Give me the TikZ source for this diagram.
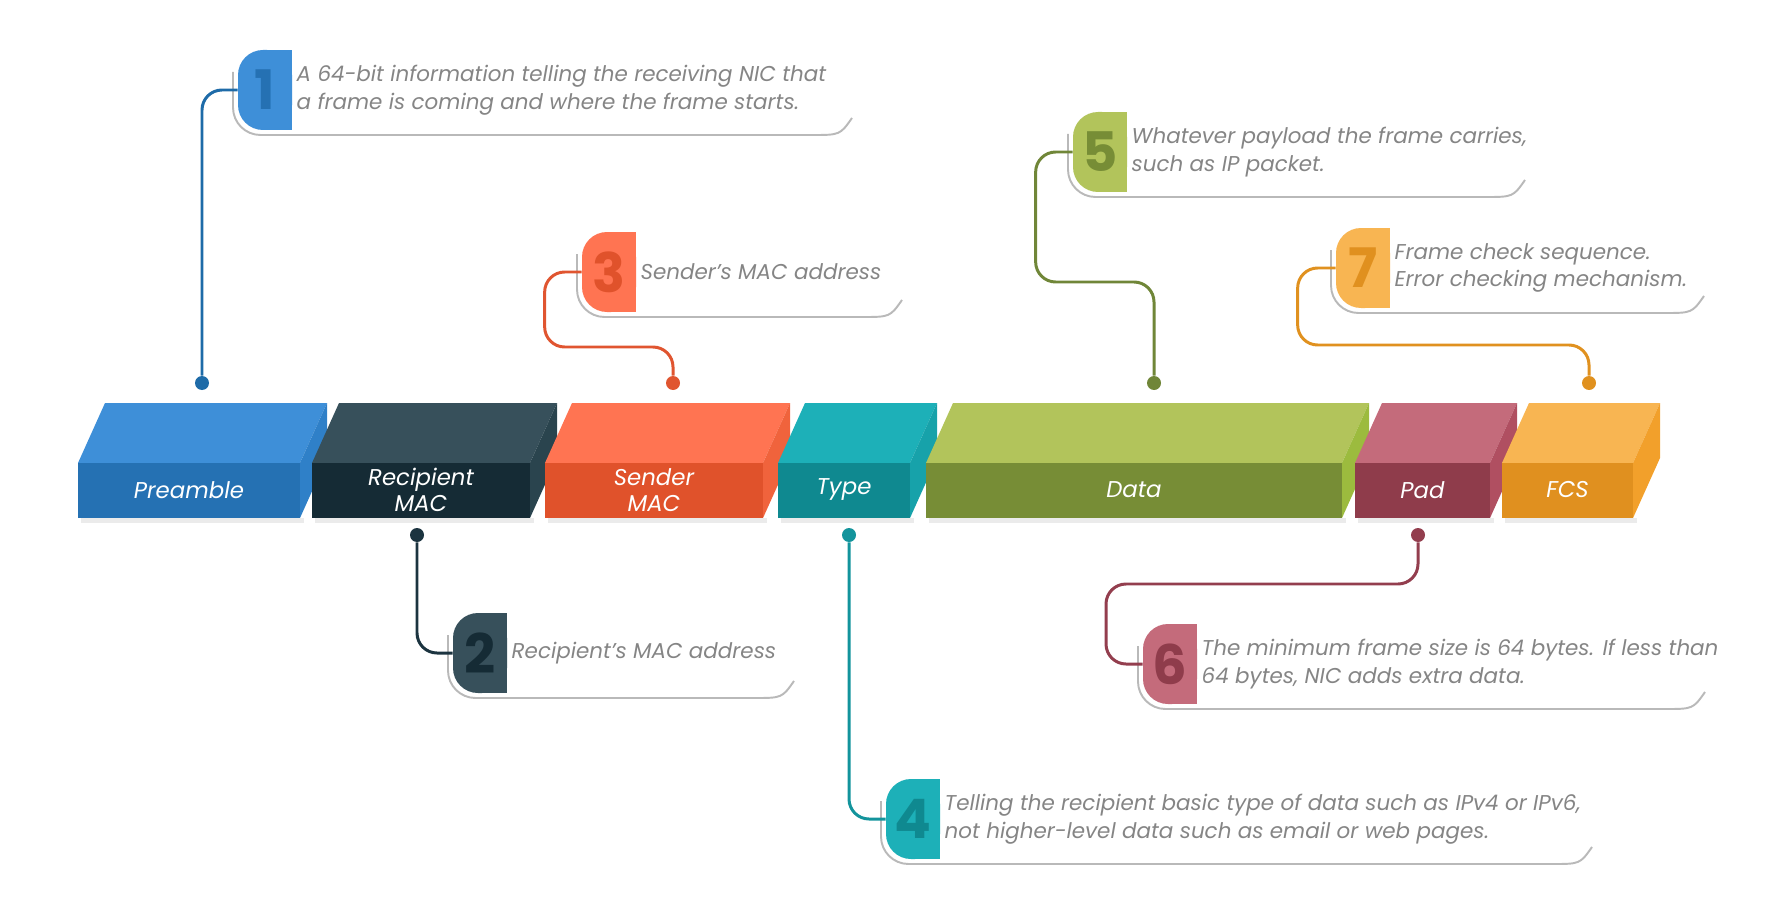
\documentclass[tikz,border=0pt]{standalone}
\usepackage{fontspec}
\setmainfont{Poppins}
\usetikzlibrary{positioning}

\definecolor{preTop}{HTML}{3E8FD8}\definecolor{preFront}{HTML}{2571B3}\definecolor{preSide}{HTML}{2F80C8}\definecolor{preLine}{HTML}{1E6BA8}
\definecolor{recTop}{HTML}{37505B}\definecolor{recFront}{HTML}{152B35}\definecolor{recSide}{HTML}{2A444E}\definecolor{recLine}{HTML}{1C3440}
\definecolor{sndTop}{HTML}{FF7452}\definecolor{sndFront}{HTML}{E0522B}\definecolor{sndSide}{HTML}{F0633C}\definecolor{sndLine}{HTML}{E05530}
\definecolor{typTop}{HTML}{1DB0B8}\definecolor{typFront}{HTML}{0F8990}\definecolor{typSide}{HTML}{17A2AA}\definecolor{typLine}{HTML}{13949C}
\definecolor{datTop}{HTML}{B2C45B}\definecolor{datFront}{HTML}{778D36}\definecolor{datSide}{HTML}{9CBB3E}\definecolor{datLine}{HTML}{708638}
\definecolor{padTop}{HTML}{C46B7B}\definecolor{padFront}{HTML}{8F3C4B}\definecolor{padSide}{HTML}{B04F61}\definecolor{padLine}{HTML}{933E4E}
\definecolor{fcsTop}{HTML}{F8B552}\definecolor{fcsFront}{HTML}{E0901F}\definecolor{fcsSide}{HTML}{F2A02B}\definecolor{fcsLine}{HTML}{E0911F}
\definecolor{notegray}{HTML}{858585}

\tikzset{
  blocktext/.style={text=white, font=\fontsize{13}{15}\selectfont\itshape, align=center, inner sep=0pt},
  badgenum/.style={font=\fontsize{31}{31}\selectfont\bfseries, inner sep=0pt},
  note/.style={text=notegray, font=\fontsize{12.2}{15.8}\selectfont\itshape, align=left, inner sep=0pt, anchor=west},
  conn/.style={line width=1.7pt, rounded corners=0.4cm},
  dot/.style={circle, inner sep=0pt, minimum size=0.28cm},
  cardline/.style={gray!55, line width=1.1pt},
}

% field of the frame: name, left, right, top, front, side, label
\newcommand{\fieldbox}[7]{%
  \fill[black!8] (#2+3,518) rectangle (#3+4,523);
  \fill[#4] (#2,463) -- (#2+27,403) -- (#3+27,403) -- (#3,463) -- cycle;
  \fill[#6] (#3,463) -- (#3+27,403) -- (#3+27,458) -- (#3,518) -- cycle;
  \fill[#5] (#2,463) rectangle (#3,518);
  \node[blocktext] (#1) at ({(#2+#3)/2},490) {#7};
}

% numbered tab: name, fill, number colour, left, top, right, bottom, number
\newcommand{\numtab}[8]{%
  \fill[#2, rounded corners=0.5cm] (#4,#5) rectangle (#6,#7);
  \fill[#2] ({(#4+#6)/2},#5) rectangle (#6,#7);
  \node[badgenum, text=#3, minimum width={(#6-#4)*0.02cm}, minimum height={(#7-#5)*0.02cm}] (#1) at ({(#4+#6)/2},{(#5+#7)/2}) {#8};
}

% card edge: left, top, right, bottom
\newcommand{\cardedge}[4]{%
  \fill[white] (#1-5,#2) rectangle (#3,#4+5);
  \draw[cardline, rounded corners=0.55cm] (#1-5,#2+22) -- (#1-5,#4+5) -- (#3-40,#4+5);
  \draw[cardline] (#3-40,#4+5) .. controls (#3-12,#4+5) .. (#3,#4-12);
}

\begin{document}
\begin{tikzpicture}[x=0.02cm, y=-0.02cm]
\useasboundingbox (0,0) rectangle (1767,912);

\fieldbox{pre}{78}{300}{preTop}{preFront}{preSide}{Preamble}
\fieldbox{rec}{312}{530}{recTop}{recFront}{recSide}{Recipient\\MAC}
\fieldbox{snd}{545}{763}{sndTop}{sndFront}{sndSide}{Sender\\MAC}
\fieldbox{typ}{778}{910}{typTop}{typFront}{typSide}{Type}
\fieldbox{dat}{926}{1342}{datTop}{datFront}{datSide}{Data}
\fieldbox{pad}{1355}{1490}{padTop}{padFront}{padSide}{Pad}
\fieldbox{fcs}{1502}{1633}{fcsTop}{fcsFront}{fcsSide}{FCS}

\node[dot, fill=preLine] (d1) at (202,383) {};
\node[dot, fill=recLine] (d2) at (417,535) {};
\node[dot, fill=sndLine] (d3) at (673,383) {};
\node[dot, fill=typLine] (d4) at (849,535) {};
\node[dot, fill=datLine] (d5) at (1154,383) {};
\node[dot, fill=padLine] (d6) at (1418,535) {};
\node[dot, fill=fcsLine] (d7) at (1589,383) {};

\cardedge{238}{50}{852}{130}
\cardedge{453}{613}{794}{693}
\cardedge{582}{232}{902}{312}
\cardedge{886}{779}{1592}{859}
\cardedge{1073}{112}{1525}{192}
\cardedge{1143}{624}{1705}{704}
\cardedge{1336}{228}{1704}{308}

\numtab{b1}{preTop}{preFront}{238}{50}{292}{130}{1}
\numtab{b2}{recTop}{recFront}{453}{613}{507}{693}{2}
\numtab{b3}{sndTop}{sndFront}{582}{232}{636}{312}{3}
\numtab{b4}{typTop}{typFront}{886}{779}{940}{859}{4}
\numtab{b5}{datTop}{datFront}{1073}{112}{1127}{192}{5}
\numtab{b6}{padTop}{padFront}{1143}{624}{1197}{704}{6}
\numtab{b7}{fcsTop}{fcsFront}{1336}{228}{1390}{308}{7}

\node[note, right=0.08cm of b1] (t1) {A 64-bit information telling the receiving NIC that\\a frame is coming and where the frame starts.};
\node[note, right=0.08cm of b2] (t2) {Recipient's MAC address};
\node[note, right=0.08cm of b3] (t3) {Sender's MAC address};
\node[note, right=0.08cm of b4] (t4) {Telling the recipient basic type of data such as IPv4 or IPv6,\\not higher-level data such as email or web pages.};
\node[note, right=0.08cm of b5] (t5) {Whatever payload the frame carries,\\such as IP packet.};
\node[note, right=0.08cm of b6] (t6) {The minimum frame size is 64 bytes. If less than\\64 bytes, NIC adds extra data.};
\node[note, right=0.08cm of b7] (t7) {Frame check sequence.\\Error checking mechanism.};

\draw[conn, preLine] (b1.west) -| (d1);
\draw[conn, recLine] (d2) |- (b2.west);
\draw[conn, sndLine] (b3.west) -| ++(-37,75) -| (d3);
\draw[conn, typLine] (d4) |- (b4.west);
\draw[conn, datLine] (b5.west) -| ++(-37,130) -| (d5);
\draw[conn, padLine] (d6) |- ++(-312,49) |- (b6.west);
\draw[conn, fcsLine] (b7.west) -| ++(-38,77) -| (d7);

\end{tikzpicture}
\end{document}
